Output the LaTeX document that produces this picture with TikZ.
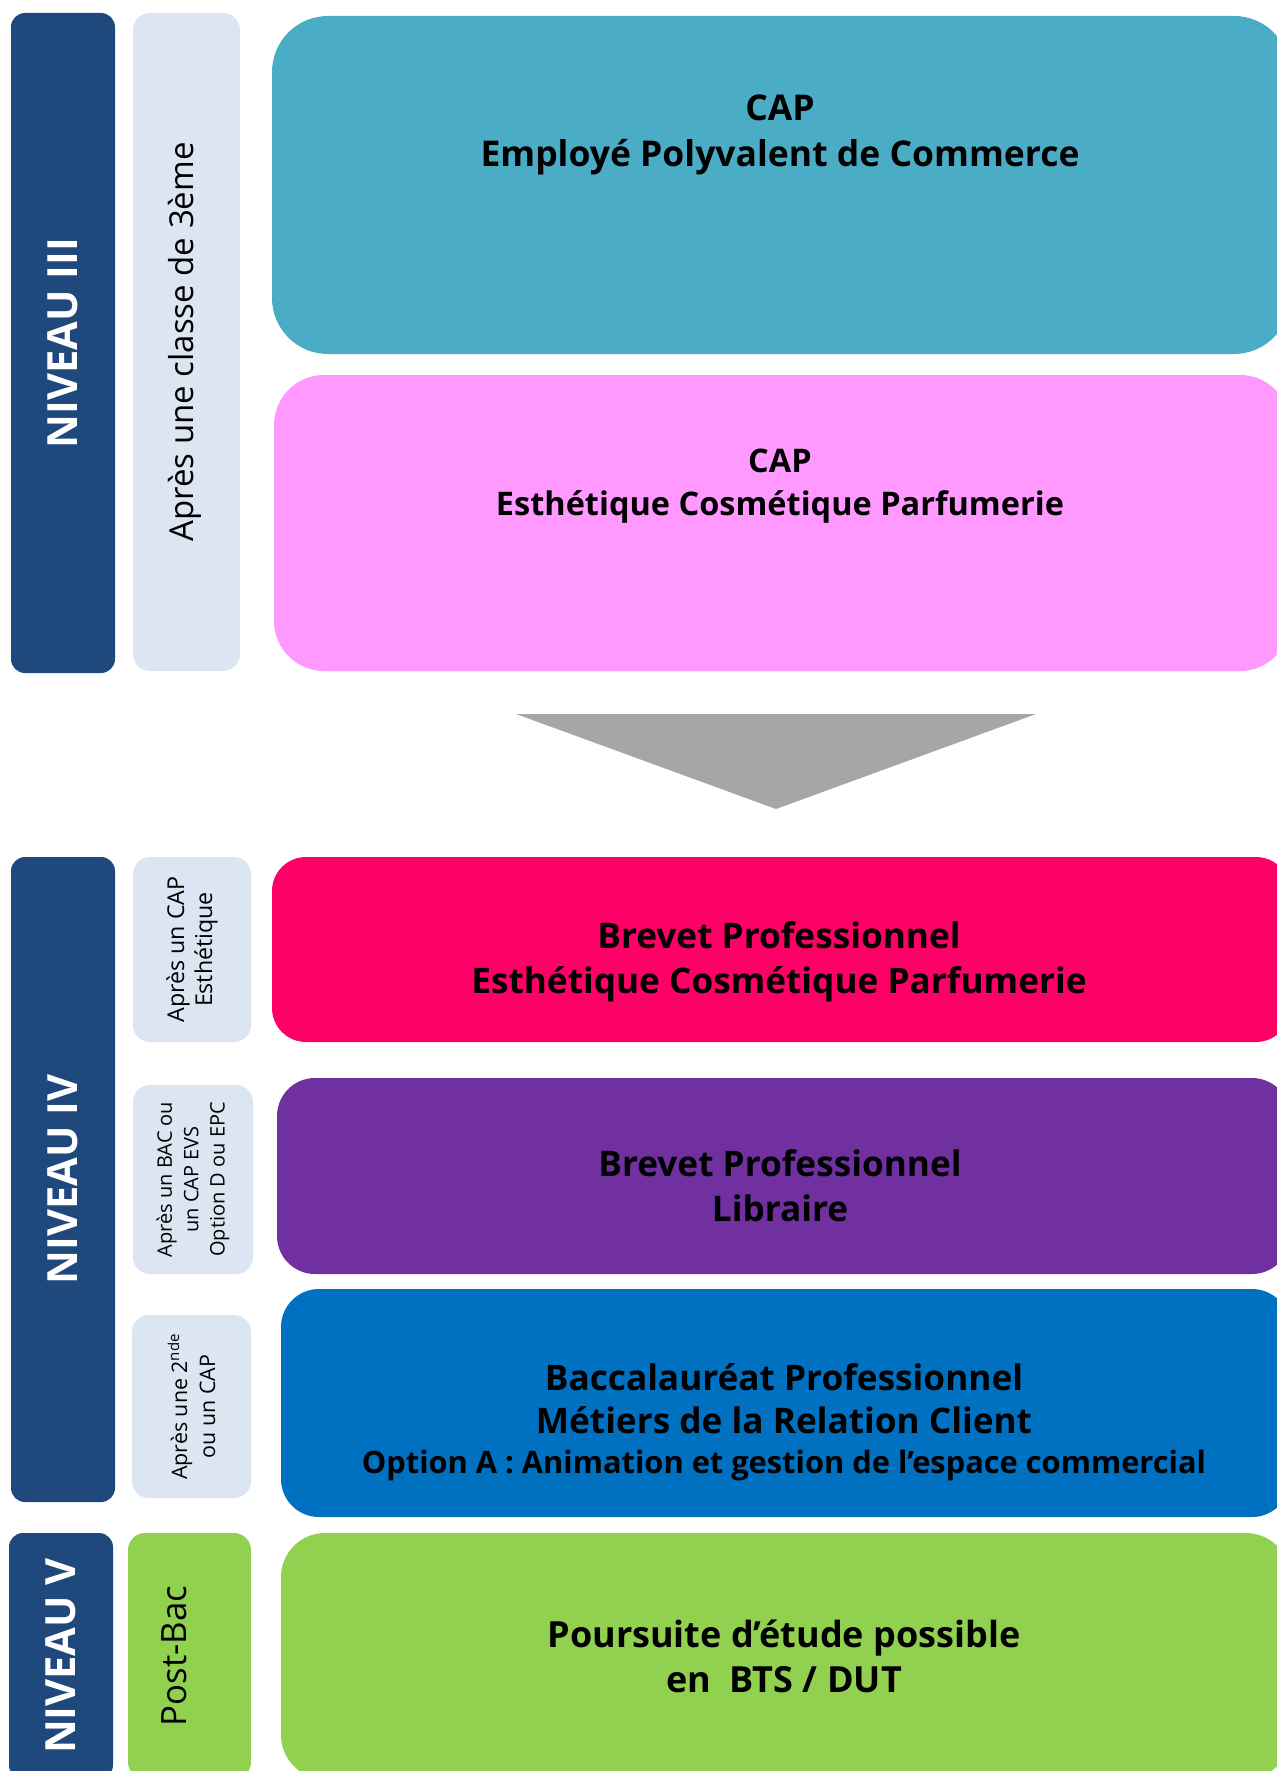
\documentclass[tikz,border=0pt]{standalone}
\usepackage{fontspec}
\setmainfont{Open Sans}
\definecolor{niveaubleu}{RGB}{31,73,125}
\definecolor{pale}{RGB}{220,230,242}
\definecolor{capteal}{RGB}{75,172,198}
\definecolor{caprose}{RGB}{255,153,255}
\definecolor{bprouge}{RGB}{255,0,102}
\definecolor{bpviolet}{RGB}{112,48,160}
\definecolor{bacbleu}{RGB}{0,112,192}
\definecolor{vert}{RGB}{146,208,80}
\definecolor{gris}{RGB}{166,166,166}
\tikzset{
  niveau/.style={fill=niveaubleu, rounded corners=7pt, rotate=90, inner sep=0pt,
    text=white, font=\bfseries\fontsize{20.8}{25}\selectfont},
  prereq/.style={fill=pale, rounded corners=8.5pt, rotate=90, inner sep=0pt, align=center},
  diplome/.style={rounded corners=#1, inner sep=0pt},
  titre/.style={align=center, inner sep=0pt}
}
\begin{document}
\begin{tikzpicture}[x=0.5pt,y=-0.5pt]
  \clip (0,0) rectangle (1277,1771);

  % niveau III
  \node[niveau, minimum width=330pt, minimum height=52pt] (niv3) at (63,343) {NIVEAU III};
  \node[prereq, minimum width=329pt, minimum height=53.5pt, text depth=6pt, font=\fontsize{16.5}{20}\selectfont] (ap3) at (186.5,342) {Après une classe de 3ème};
  \node[diplome=28pt, fill=capteal, minimum width=509pt, minimum height=169pt] (cap1) at (781,185) {};
  \node[titre, font=\bfseries\fontsize{17.75}{23}\selectfont] (cap1t) at (780,135) {CAP\\Employé Polyvalent de Commerce};
  \node[diplome=25pt, fill=caprose, minimum width=508pt, minimum height=148pt] (cap2) at (782,523) {};
  \node[titre, font=\bfseries\fontsize{16.25}{21.5}\selectfont] (cap2t) at (780,486) {CAP\\Esthétique Cosmétique Parfumerie};

  % fleche
  \coordinate (fa) at (516,714);
  \coordinate (fb) at (1036,714);
  \coordinate (fc) at (776,809);
  \fill[gris] (fa) -- (fb) -- (fc) -- cycle;

  % niveau IV
  \node[niveau, minimum width=322.5pt, minimum height=52pt] (niv4) at (63,1179.5) {NIVEAU IV};
  \node[prereq, minimum width=92.5pt, minimum height=59pt, font=\fontsize{11.6}{14}\selectfont] (apcap) at (192,949.5) {Après un CAP\\Esthétique};
  \node[diplome=17pt, fill=bprouge, minimum width=509pt, minimum height=92.5pt] (bp1) at (781,949.5) {};
  \node[titre, font=\bfseries\fontsize{17.6}{22.5}\selectfont] (bp1t) at (779,962) {Brevet Professionnel\\Esthétique Cosmétique Parfumerie};

  \node[prereq, minimum width=94.5pt, minimum height=60pt, font=\fontsize{10}{13.2}\selectfont] (apbac) at (193,1179.5) {Après un BAC ou\\un CAP EVS\\Option D ou EPC};
  \node[diplome=19pt, fill=bpviolet, minimum width=506.5pt, minimum height=98pt] (bp2) at (783.5,1176) {};
  \node[titre, font=\bfseries\fontsize{17.6}{22.5}\selectfont] (bp2t) at (780,1185.5) {Brevet Professionnel\\Libraire};

  \node[prereq, minimum width=91.5pt, minimum height=59.5pt, font=\fontsize{10.7}{14}\selectfont] (ap2nde) at (191.5,1406.5) {Après une 2\textsuperscript{nde}\\ou un CAP};
  \node[diplome=19pt, fill=bacbleu, minimum width=504.5pt, minimum height=114pt] (bac) at (785.5,1403) {};
  \node[titre, font=\bfseries\fontsize{17.6}{21.5}\selectfont] (bact) at (784,1422) {Baccalauréat Professionnel\\Métiers de la Relation Client\\[-1.5pt]{\fontsize{15.4}{20}\selectfont Option A : Animation et gestion de l’espace commercial}};

  % niveau V
  \node[niveau, minimum width=123pt, minimum height=52pt] (niv5) at (61,1656) {NIVEAU V};
  \node[prereq, fill=vert, minimum width=123pt, minimum height=61.5pt, text depth=15pt, font=\fontsize{17.4}{20}\selectfont] (post) at (189.5,1656) {Post-Bac};
  \node[diplome=22pt, fill=vert, minimum width=504.5pt, minimum height=123pt] (bts) at (785.5,1656) {};
  \node[titre, font=\bfseries\fontsize{18}{22.5}\selectfont] (btst) at (784,1656.7) {Poursuite d’étude possible\\en\ \ BTS / DUT};
\end{tikzpicture}
\end{document}
